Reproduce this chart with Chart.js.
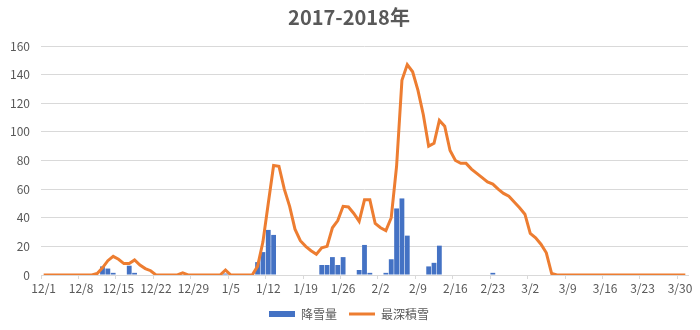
<!DOCTYPE html>
<html>
<head>
<meta charset="utf-8">
<script src="https://cdn.jsdelivr.net/npm/chart.js@4"></script>
<style>
  html, body { margin: 0; padding: 0; background: #fff; }
  #wrap { width: 700px; height: 330px; }
</style>
</head>
<body>
<div id="wrap"><canvas id="myChart"></canvas></div>
<script>
// 月ごとの日数 (12月〜3月)
const months = [12, 1, 2, 3];
const monthDays = [31, 31, 28, 31];

// 軸に表示する日付 (7日おき)
const tickLabels = ['12/1', '12/8', '12/15', '12/22', '12/29', '1/5', '1/12', '1/19', '1/26',
  '2/2', '2/9', '2/16', '2/23', '3/2', '3/9', '3/16', '3/23', '3/30'];

// 降雪量 (cm)
const snowfallDec = [0,0,0,0,0,0,0,0,0,0, 0,6,4.5,1.5,0,0,6.5,1.5,0,0, 0,0,0,0,0,0,0,0,0,0, 0];
const snowfallJan = [0,0,0,1,0,0,0,0,0,9, 16,31.5,28,0,0,0,0,0,0,0, 0,7,7,12.5,7,12.5,0,0,3.5,21, 1.5];
const snowfallFeb = [0,0,1.5,11,46.5,53.5,27.5,0,0,0, 6,8.5,20.5,0,0,0,0,0,0,0, 0,0,1.5,0,0,0,0,0];
const snowfallMar = [0,0,0,0,0,0,0,0,0,0, 0,0,0,0,0,0,0,0,0,0, 0,0,0,0,0,0,0,0,0,0, 0];

// 最深積雪 (cm)
const depthDec = [0,0,0,0,0,0,0,0,0,0, 1,5,10,13,11,8,8,10.5,7,4.5, 3,0,0,0,0,0,1.5,0,0,0, 0];
const depthJan = [0,0,0,3.5,0,0,0,0,0,6, 23,50,76.5,76,60,48,32,24,20,17, 14.5,19,20,33,38,48,47.5,43,37.5,52.5, 52.5];
const depthFeb = [36,33,31,40,76,136,147,142,129,112, 90,92,108,104,87,80,78,78,74,71, 68,65,63.5,60,57,55,51,47];
const depthMar = [42.5,29,26,21.5,15.5,1,0,0,0,0, 0,0,0,0,0,0,0,0,0,0, 0,0,0,0,0,0,0,0,0,0, 0];

// 日付ラベルを作る
const labels = [];
months.forEach((m, i) => {
  for (let d = 1; d <= monthDays[i]; d++) labels.push(m + '/' + d);
});

const snowfall = [].concat(snowfallDec, snowfallJan, snowfallFeb, snowfallMar);
const depth = [].concat(depthDec, depthJan, depthFeb, depthMar);

const textColor = '#595959';
const gridColor = '#d9d9d9';
const fontFamily = '"Noto Sans CJK JP", "Noto Sans", sans-serif';

const ctx = document.getElementById('myChart').getContext('2d');

const myChart = new Chart(ctx, {
  data: {
    labels: labels,
    datasets: [
      {
        type: 'bar',
        label: '降雪量',
        data: snowfall,
        backgroundColor: '#4472C4',
        borderWidth: 0,
        barPercentage: 1,
        categoryPercentage: 0.9,
        order: 2
      },
      {
        type: 'line',
        label: '最深積雪',
        data: depth,
        borderColor: '#ED7D31',
        backgroundColor: '#ED7D31',
        borderWidth: 3,
        pointRadius: 0,
        tension: 0,
        order: 1
      }
    ]
  },
  options: {
    responsive: true,
    maintainAspectRatio: false,
    animation: false,
    layout: {
      padding: { left: 10, right: 12, top: 0, bottom: 0 }
    },
    scales: {
      x: {
        offset: true,
        grid: {
          offset: true,
          drawOnChartArea: false,
          drawTicks: true,
          tickLength: 4,
          color: (c) => (c.index % 7 === 0 ? gridColor : 'rgba(0,0,0,0)')
        },
        border: { display: true, color: gridColor },
        ticks: {
          autoSkip: false,
          maxRotation: 0,
          padding: 2,
          color: textColor,
          font: { family: fontFamily, size: 12 },
          callback: function (value, index) {
            const lab = this.getLabelForValue(value);
            return tickLabels.includes(lab) && index % 7 === 0 ? lab : '';
          }
        },
        afterFit: (scale) => {
          scale.height = 21;
          scale.paddingLeft = 0;
          scale.paddingRight = 0;
        }
      },
      y: {
        min: 0,
        max: 160,
        grid: { color: gridColor, drawTicks: false },
        border: { display: false },
        ticks: {
          stepSize: 20,
          padding: 11,
          color: textColor,
          font: { family: fontFamily, size: 12 }
        },
        afterFit: (scale) => { scale.width = 31; }
      }
    },
    plugins: {
      title: {
        display: true,
        text: '2017-2018年',
        color: textColor,
        font: { family: fontFamily, size: 20, weight: 'bold' },
        padding: { top: 5, bottom: 17 }
      },
      legend: {
        position: 'bottom',
        labels: {
          color: textColor,
          font: { family: fontFamily, size: 12 },
          usePointStyle: true,
          pointStyleWidth: 26,
          boxHeight: 6,
          padding: 12,
          sort: (a, b) => a.datasetIndex - b.datasetIndex,
          generateLabels: (chart) => {
            const items = Chart.defaults.plugins.legend.labels.generateLabels(chart);
            items.forEach((it) => {
              it.pointStyle = it.datasetIndex === 0 ? 'rect' : 'line';
            });
            return items;
          }
        }
      },
      tooltip: { enabled: true }
    }
  }
});
</script>
</body>
</html>
